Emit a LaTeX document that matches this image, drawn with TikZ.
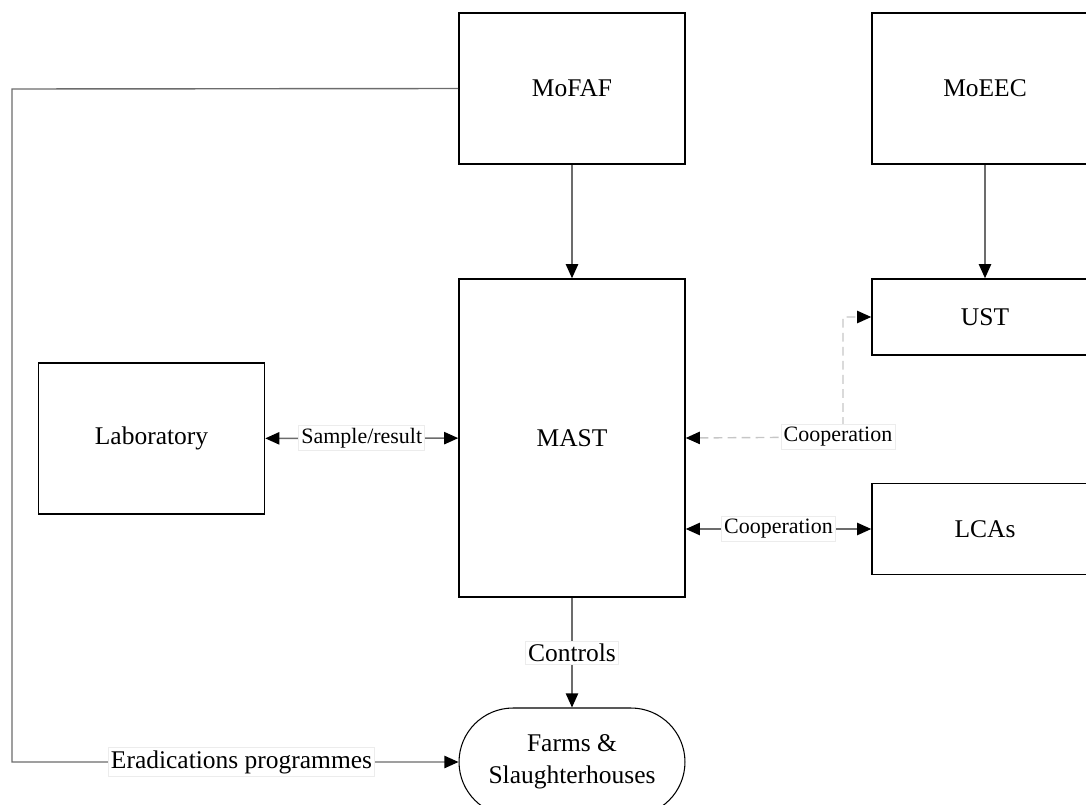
\documentclass[tikz,border=0pt]{standalone}
\usepackage{fontspec}
\setmainfont{Liberation Serif}
\usetikzlibrary{arrows.meta}

\begin{document}
\begin{tikzpicture}[x=0.02cm, y=-0.02cm,
        box/.style={draw, line width=0.9pt, minimum width=4.52cm, font=\fontsize{14.5}{18}\selectfont},
        link/.style={draw=gray!85!black, line width=0.8pt},
        coop/.style={draw=gray!45, line width=0.8pt, dash pattern=on 5pt off 3pt},
        tip/.style={-{Triangle[length=8pt,width=7pt,color=black]}},
        tips/.style={{Triangle[length=8pt,width=7pt,color=black]}-{Triangle[length=8pt,width=7pt,color=black]}},
        lbl/.style={fill=white, draw=gray!15, line width=0.4pt, inner sep=1.5pt, font=\fontsize{12.5}{14}\selectfont},
        biglbl/.style={lbl, font=\fontsize{14.5}{16}\selectfont}]

        \useasboundingbox (0,0) rectangle (1086,805);
        \clip (0,0) rectangle (1086,805);

        % organisations
        \node[box, minimum height=3.02cm] (mofaf) at (572,88.5) {MoFAF};
        \node[box, minimum height=3.02cm] (moeec) at (985,88.5) {MoEEC};
        \node[box, minimum height=1.52cm] (ust) at (985,317) {UST};
        \node[box, minimum height=6.36cm] (mast) at (572,438) {MAST};
        \node[box, minimum height=3.02cm] (lab) at (151.5,438.5) {Laboratory};
        \node[box, minimum height=1.82cm] (lcas) at (985,529) {LCAs};
        \node[box, rounded corners=1.08cm, line width=0.6pt, minimum height=2.16cm, align=center] (farms) at (572,762)
            {Farms \&\\Slaughterhouses};

        \coordinate (bend) at (12,89);
        \coordinate (corner) at (843,437);

        \draw[link, tip] (mofaf) -- (mast);
        \draw[link, tip] (moeec) -- (ust);
        \draw[link, tip] (mofaf.west) -- (bend) |- (farms.west)
            node[biglbl, pos=0.757] {Eradications programmes};

        \draw[link, tips] (lab) -- (mast) node[lbl, midway] {Sample/result};
        \draw[coop, tips] (mast.east) -- (corner) |- (ust.west);
        \node[lbl] at ([xshift=-0.1cm]corner) {Cooperation};
        \draw[link, tips] (mast.east |- lcas.west) -- (lcas.west) node[lbl, midway] {Cooperation};
        \draw[link, tip] (mast) -- (farms) node[biglbl, midway] {Controls};

    \end{tikzpicture}
\end{document}
